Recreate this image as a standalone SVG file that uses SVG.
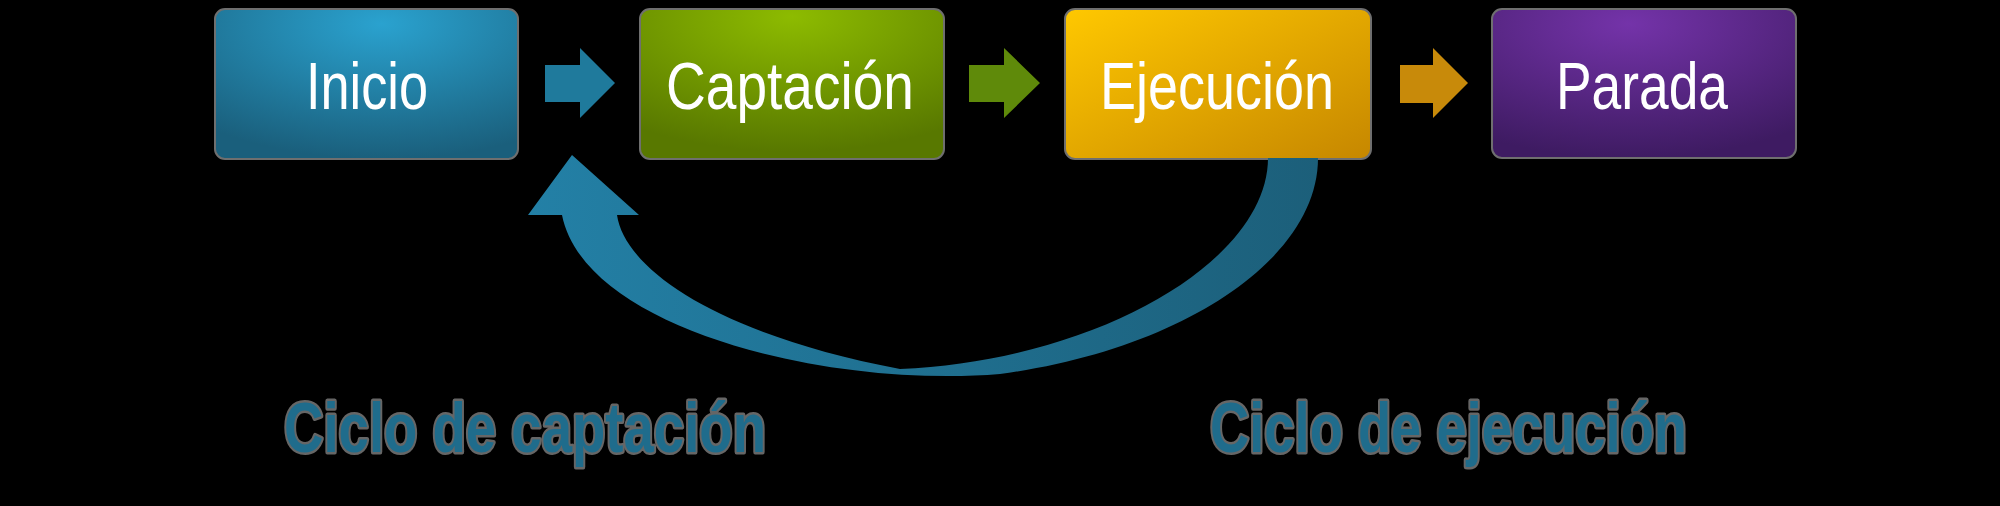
<svg xmlns="http://www.w3.org/2000/svg" width="2000" height="506" viewBox="0 0 2000 506">
<style>
.box{stroke:#6f6f6f;stroke-width:2}
.lbl{font-family:"Liberation Sans",Arial,sans-serif;font-size:66px;fill:#ffffff;text-anchor:middle}
.cyc{font-family:"Liberation Sans",Arial,sans-serif;font-size:70px;font-weight:bold;fill:#1f6c8c;stroke:#666;stroke-width:5;paint-order:stroke;stroke-linejoin:round}
</style>
<defs>
<radialGradient id="gBlue" cx="0.55" cy="0.1" r="0.9">
<stop offset="0" stop-color="#2aa2cf"/><stop offset="1" stop-color="#1a5f7c"/>
</radialGradient>
<radialGradient id="gGreen" cx="0.5" cy="0.05" r="0.9">
<stop offset="0" stop-color="#8dbb00"/><stop offset="1" stop-color="#587800"/>
</radialGradient>
<linearGradient id="gYellow" x1="0" y1="0" x2="1" y2="1">
<stop offset="0" stop-color="#ffc800"/><stop offset="1" stop-color="#c68700"/>
</linearGradient>
<radialGradient id="gPurple" cx="0.45" cy="0.1" r="0.9">
<stop offset="0" stop-color="#7433a9"/><stop offset="1" stop-color="#3e1b62"/>
</radialGradient>
<linearGradient id="gArc" x1="0" y1="0" x2="1" y2="0">
<stop offset="0" stop-color="#2380a6"/><stop offset="1" stop-color="#1c5f7a"/>
</linearGradient>
</defs>
<rect x="0" y="0" width="2000" height="506" fill="#000000"/>

<g id="inicio">
<rect class="box" x="215" y="9" width="303" height="150" rx="10" fill="url(#gBlue)"/>
<text class="lbl" x="367" y="109" textLength="122" lengthAdjust="spacingAndGlyphs">Inicio</text>
</g>
<g id="captacion">
<rect class="box" x="640" y="9" width="304" height="150" rx="10" fill="url(#gGreen)"/>
<text class="lbl" x="790" y="109" textLength="248" lengthAdjust="spacingAndGlyphs">Captación</text>
</g>
<g id="ejecucion">
<rect class="box" x="1065" y="9" width="306" height="150" rx="10" fill="url(#gYellow)"/>
<text class="lbl" x="1217" y="109" textLength="234" lengthAdjust="spacingAndGlyphs">Ejecución</text>
</g>
<g id="parada">
<rect class="box" x="1492" y="9" width="304" height="149" rx="10" fill="url(#gPurple)"/>
<text class="lbl" x="1642" y="109" textLength="172" lengthAdjust="spacingAndGlyphs">Parada</text>
</g>

<g id="connectors">
<polygon points="545,65 580,65 580,48 615,83 580,118 580,102 545,102" fill="#1f7a9c"/>
<polygon points="969,65 1004,65 1004,48 1040,83 1004,118 1004,102 969,102" fill="#5f8a0a"/>
<polygon points="1400,65 1433,65 1433,48 1468,83 1433,118 1433,103 1400,103" fill="#c88a0a"/>
<path d="M1318,158 C1318,260 1180,350 1000,374 C830,388 585,330 562,215 L528,215 L572,155 L639,215 L617,215 C625,270 720,335 900,369 C1100,360 1268,260 1268,158 Z" fill="url(#gArc)"/>
</g>

<g id="labels">
<text class="cyc" x="284" y="452" textLength="482" lengthAdjust="spacingAndGlyphs">Ciclo de captación</text>
<text class="cyc" x="1210" y="452" textLength="477" lengthAdjust="spacingAndGlyphs">Ciclo de ejecución</text>
</g>
</svg>
